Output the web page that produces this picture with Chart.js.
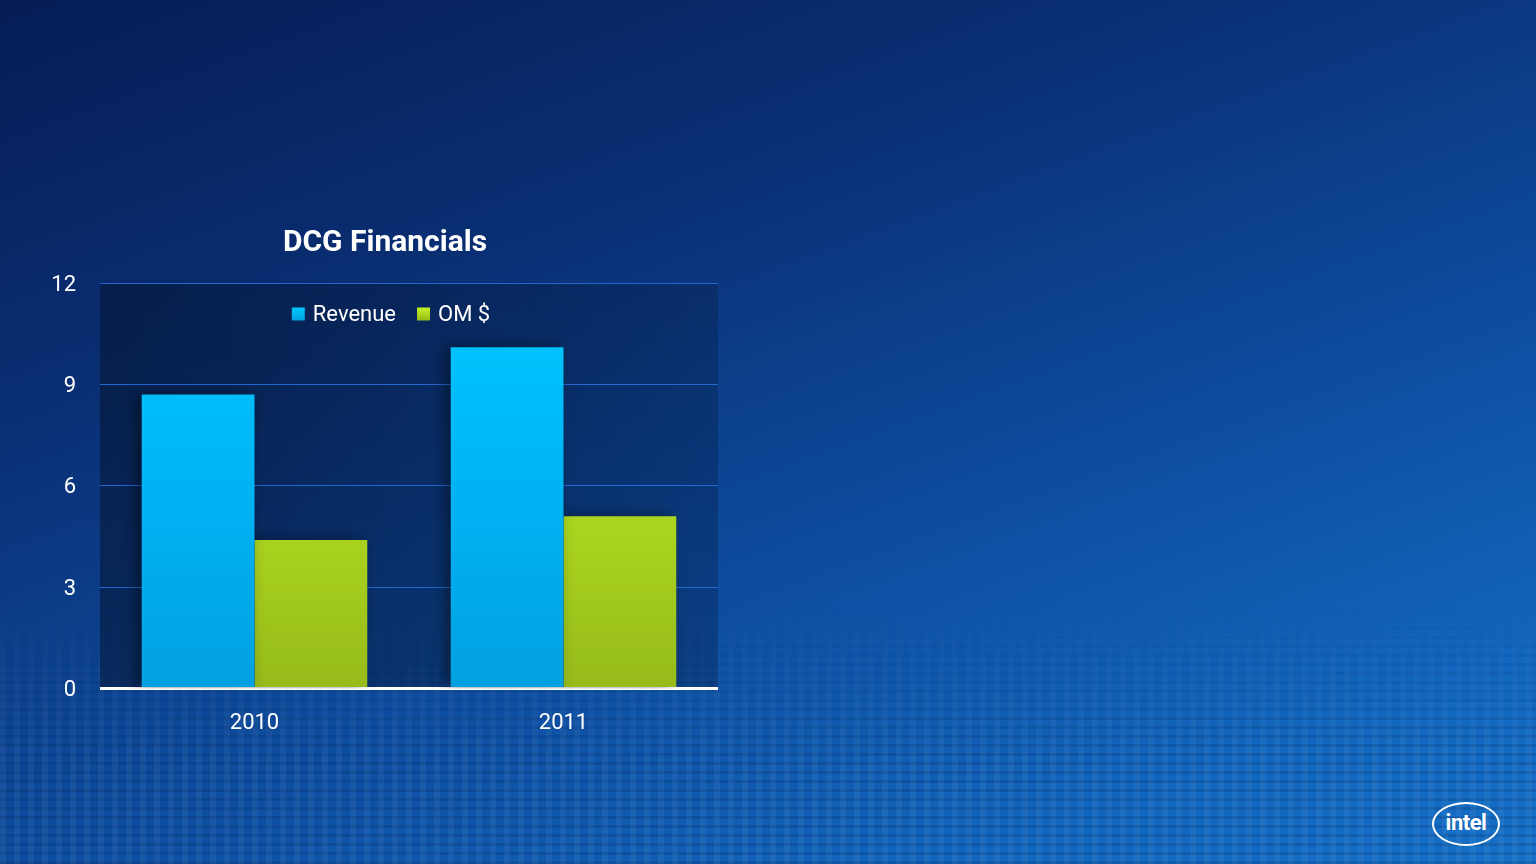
<!DOCTYPE html>
<html>
<head>
<meta charset="utf-8">
<title>DCG Financials</title>
<script src="https://cdn.jsdelivr.net/npm/chart.js@4.4.0/dist/chart.umd.min.js"></script>
<style>
  html, body { margin: 0; padding: 0; width: 1536px; height: 864px; overflow: hidden; }
  body {
    background: linear-gradient(160deg, #061d55 0%, #0a2f74 30%, #0d4c9e 60%, #1266bd 85%, #1570c8 100%);
    font-family: Roboto, "Open Sans", sans-serif;
    position: relative;
  }
  /* rough hint of the chip pattern at the bottom of the slide */
  #pattern {
    position: absolute; left: 0; top: 600px; width: 1536px; height: 264px;
    background:
      repeating-linear-gradient(90deg, rgba(255,255,255,0.05) 0 6px, rgba(0,0,0,0) 6px 14px),
      repeating-linear-gradient(0deg, rgba(0,30,80,0.18) 0 3px, rgba(0,0,0,0) 3px 9px);
    -webkit-mask-image: linear-gradient(180deg, rgba(0,0,0,0) 0%, rgba(0,0,0,1) 60%);
    mask-image: linear-gradient(180deg, rgba(0,0,0,0) 0%, rgba(0,0,0,1) 60%);
  }
  #wrap { position: absolute; left: 52px; top: 213px; width: 666px; height: 538px; }
  #logo {
    position: absolute; left: 1432px; top: 802px; width: 68px; height: 44px;
    border: 2px solid #fff; border-radius: 50%; box-sizing: border-box;
    color: #fff; font: bold 22px Roboto, sans-serif; text-align: center; line-height: 38px;
    letter-spacing: -0.5px;
  }
</style>
</head>
<body>
<div id="pattern"></div>
<div id="wrap"><canvas id="barChart"></canvas></div>
<div id="logo">intel</div>
<script>
// datos del gráfico
var years = ['2010', '2011'];
var revenue = [8.7, 10.1];
var omDollars = [4.4, 5.1];
var yTicks = [0, 3, 6, 9, 12];

var revenueColors = ['#00c8ff', '#00b4f4', '#02a0e0'];
var omColors = ['#c4f424', '#b0da20', '#96bb1a'];

// degradado vertical para cada barra
function barGradient(stops) {
    return function (context) {
        var chart = context.chart;
        var area = chart.chartArea;
        if (!area) return stops[0];
        var g = chart.ctx.createLinearGradient(0, area.top, 0, area.bottom);
        g.addColorStop(0, stops[0]);
        g.addColorStop(0.5, stops[1]);
        g.addColorStop(1, stops[2]);
        return g;
    };
}

// fondo oscuro del área de trazado + sombra de las barras
var plotBackground = {
    id: 'plotBackground',
    beforeDraw: function (chart) {
        var a = chart.chartArea;
        var ctx = chart.ctx;
        ctx.save();
        var g = ctx.createLinearGradient(a.left, 0, a.right, 0);
        g.addColorStop(0, 'rgba(4,20,48,0.55)');
        g.addColorStop(1, 'rgba(6,30,70,0.35)');
        ctx.fillStyle = g;
        ctx.fillRect(a.left, a.top, a.right - a.left, a.bottom - a.top);
        ctx.restore();
    },
    beforeDatasetsDraw: function (chart) {
        chart.ctx.save();
        chart.ctx.shadowColor = 'rgba(0,0,0,0.45)';
        chart.ctx.shadowBlur = 14;
        chart.ctx.shadowOffsetX = -6;
    },
    afterDatasetsDraw: function (chart) {
        chart.ctx.restore();
    }
};

// leyenda dentro del área de trazado, en una sola fila
var innerLegend = {
    id: 'innerLegend',
    afterDraw: function (chart) {
        var ctx = chart.ctx;
        var a = chart.chartArea;
        var box = 13, gap = 8, spacing = 21;
        var colors = [revenueColors, omColors];
        ctx.save();
        ctx.font = '22px Roboto';
        ctx.textBaseline = 'middle';
        var items = chart.data.datasets.map(function (ds, i) {
            return { text: ds.label, w: ctx.measureText(ds.label).width, c: colors[i] };
        });
        var total = 0;
        items.forEach(function (it, i) { total += box + gap + it.w + (i > 0 ? spacing : 0); });
        var x = (a.left + a.right) / 2 - 18 - total / 2;
        var y = a.top + 31;
        items.forEach(function (it) {
            var g = ctx.createLinearGradient(0, y - box / 2, 0, y + box / 2);
            g.addColorStop(0, it.c[0]);
            g.addColorStop(1, it.c[2]);
            ctx.fillStyle = g;
            ctx.fillRect(x, y - box / 2, box, box);
            x += box + gap;
            ctx.fillStyle = '#ffffff';
            ctx.fillText(it.text, x, y + 1);
            x += it.w + spacing;
        });
        ctx.restore();
    }
};

var ctx = document.getElementById('barChart').getContext('2d');
window.myBarChart = new Chart(ctx, {
    type: 'bar',
    data: {
        labels: years,
        datasets: [{
            label: 'Revenue',
            data: revenue,
            backgroundColor: barGradient(revenueColors),
            borderWidth: 0
        }, {
            label: 'OM $',
            data: omDollars,
            backgroundColor: barGradient(omColors),
            borderWidth: 0
        }]
    },
    options: {
        responsive: true,
        maintainAspectRatio: false,
        animation: false,
        categoryPercentage: 0.73,
        barPercentage: 1.0,
        layout: { padding: 0 },
        plugins: {
            title: {
                display: true,
                text: 'DCG Financials',
                color: '#ffffff',
                font: { family: 'Roboto', size: 30, weight: 'bold' },
                padding: { top: 12, bottom: 22 }
            },
            legend: { display: false },
            tooltip: { enabled: false }
        },
        scales: {
            x: {
                grid: { display: false },
                border: { display: false },
                ticks: {
                    color: '#ffffff',
                    font: { family: 'Roboto', size: 22 },
                    padding: 14
                }
            },
            y: {
                min: 0,
                max: 12,
                afterBuildTicks: function (scale) {
                    scale.ticks = yTicks.map(function (v) { return { value: v }; });
                },
                afterFit: function (scale) { scale.width = 48; },
                border: { display: false },
                grid: {
                    color: function (c) { return c.tick && c.tick.value === 0 ? '#ffffff' : 'rgba(40,110,220,0.9)'; },
                    lineWidth: function (c) { return c.tick && c.tick.value === 0 ? 3 : 1; },
                    drawTicks: false
                },
                ticks: {
                    color: '#ffffff',
                    font: { family: 'Roboto', size: 22 },
                    padding: 24,
                    labelOffset: 2
                }
            }
        }
    },
    plugins: [plotBackground, innerLegend]
});
</script>
</body>
</html>
